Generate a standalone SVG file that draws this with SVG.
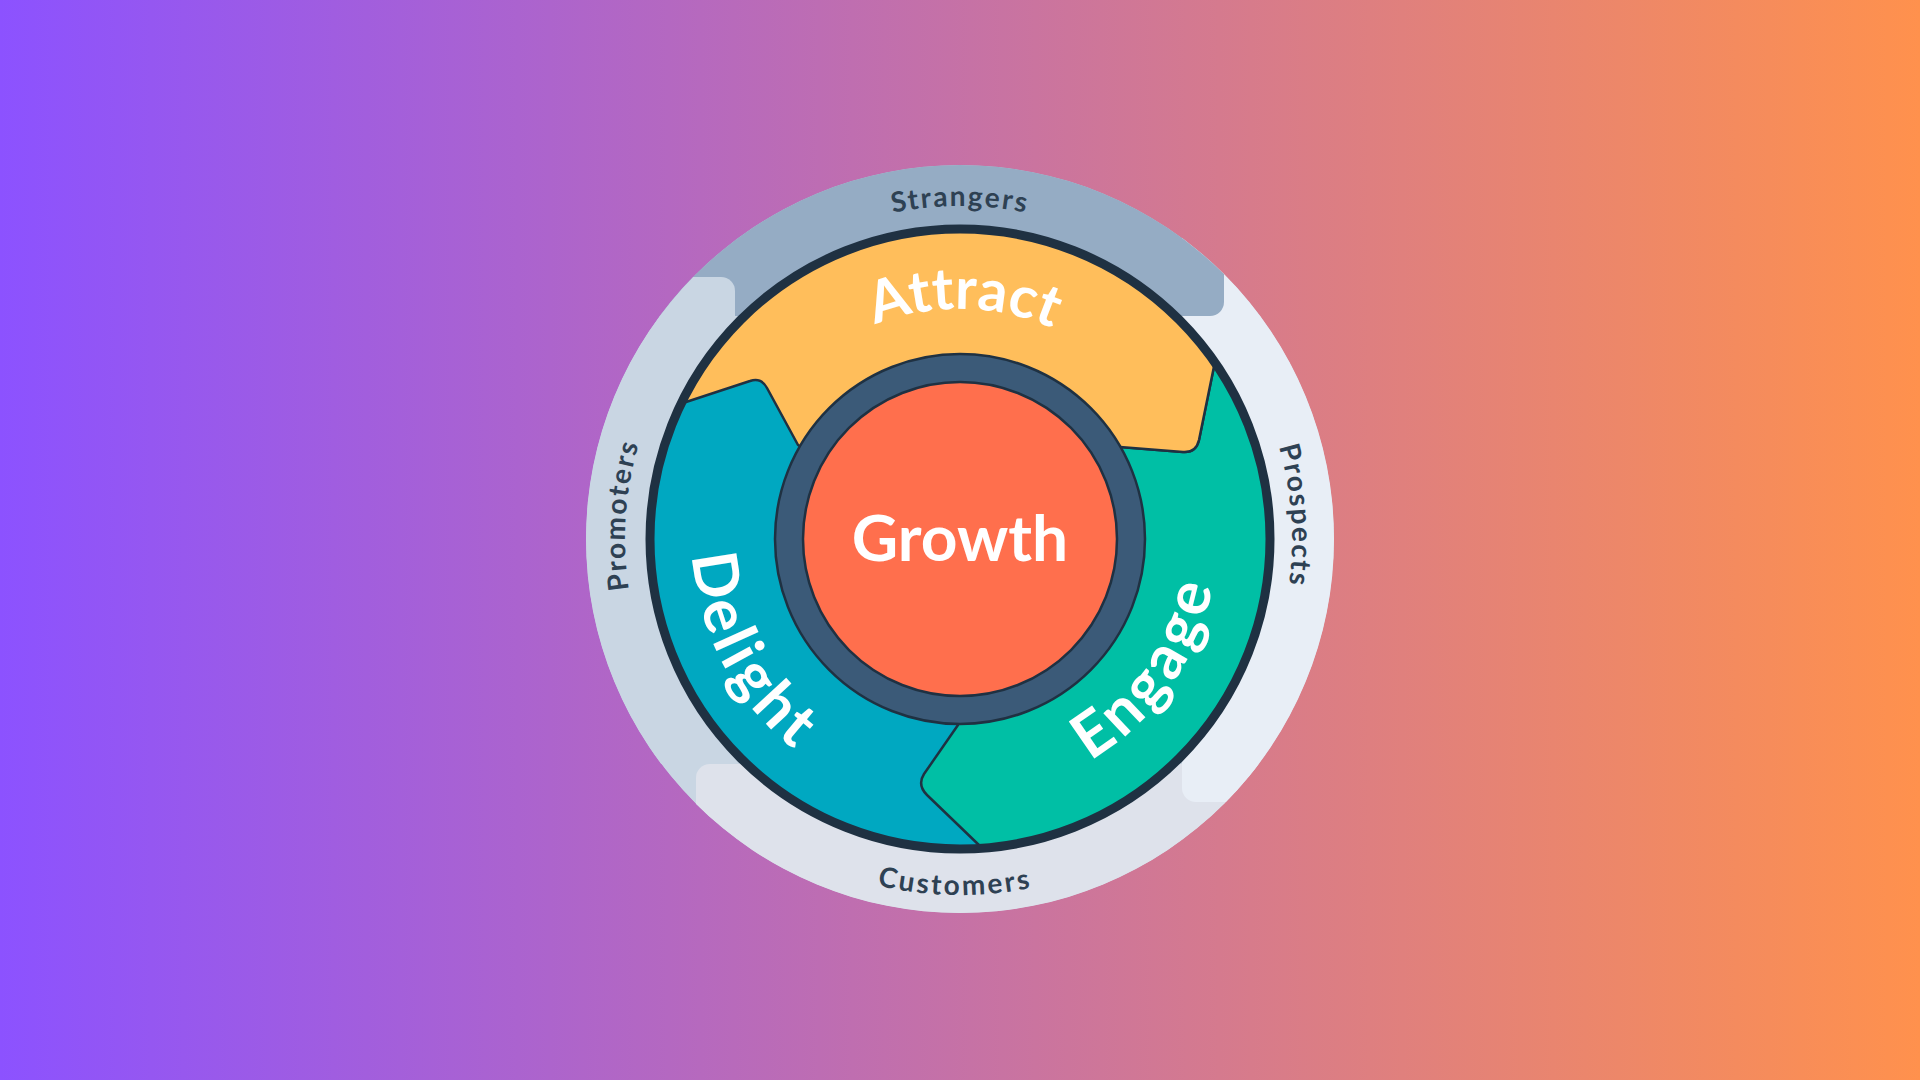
<svg xmlns="http://www.w3.org/2000/svg" xmlns:xlink="http://www.w3.org/1999/xlink" width="1920" height="1080" viewBox="0 0 1920 1080">
  <style>
    text { font-variant-ligatures: none; font-feature-settings: "liga" 0, "dlig" 0, "clig" 0; }
    .seg { stroke: #1F3142; stroke-width: 2.5; stroke-linejoin: round; }
    .big { font-family: Lato, "Open Sans", "Liberation Sans", sans-serif; font-weight: 700; fill: #FFFFFF; font-size: 58px; }
    .big2 { font-family: Lato, "Open Sans", "Liberation Sans", sans-serif; font-weight: 700; fill: #FFFFFF; font-size: 62px; letter-spacing: 4px; }
    .lbl { font-family: Lato, "Open Sans", "Liberation Sans", sans-serif; font-weight: 700; fill: #2E4153; font-size: 28px; letter-spacing: 2px; }
  </style>
  <defs>
    <linearGradient id="bg" x1="0" y1="0" x2="1920" y2="0" gradientUnits="userSpaceOnUse">
      <stop offset="0" stop-color="#8C52FF"/>
      <stop offset="1" stop-color="#FF914D"/>
    </linearGradient>
    <clipPath id="outerClip">
      <circle cx="960" cy="539" r="374"/>
    </clipPath>
    <path id="pStrangers" d="M 647.1 425.1 A 333 333 0 0 1 1272.9 425.1"/>
    <path id="pProspects" d="M 1105.5 240.6 A 332 332 0 0 1 1145.7 814.2"/>
    <path id="pPromoters" d="M 772.7 816.7 A 335 335 0 0 1 813.1 237.9"/>
    <path id="pCustomers" d="M 649.2 712.7 A 356 356 0 0 0 1265.8 721.3"/>
    <path id="pAttract" d="M 762.8 420.5 A 230 230 0 0 1 1161.2 427.5"/>
    <path id="pDelight" d="M 711.5 438.6 A 268 268 0 0 0 904.3 801.1"/>
    <path id="pEngage" d="M 983.7 794.9 A 257 257 0 0 0 1207.9 471.2"/>
  </defs>

  <rect x="0" y="0" width="1920" height="1080" fill="url(#bg)"/>

  <g id="outer-ring" clip-path="url(#outerClip)">
    <circle cx="960" cy="539" r="374" fill="#C9D6E3"/>
    <path id="q-customers" d="M 696 1000 V 778 A 14 14 0 0 1 710 764 H 1400 V 1000 Z" fill="#DEE2EB"/>
    <path id="q-prospects" d="M 1400 100 V 802 H 1196 A 14 14 0 0 1 1182 788 V 100 Z" fill="#E8EEF6"/>
    <path id="q-strangers" d="M 500 100 H 1224 V 302 A 14 14 0 0 1 1210 316 H 500 Z" fill="#95ACC4"/>
    <path id="q-promoters" d="M 500 277 H 721 A 14 14 0 0 1 735 291 V 764 H 500 Z" fill="#C9D6E3"/>
  </g>

  <g id="labels-outer">
    <text class="lbl" id="lbl-strangers"><textPath xlink:href="#pStrangers" href="#pStrangers" startOffset="50%" text-anchor="middle">Strangers</textPath></text>
    <text class="lbl" id="lbl-prospects"><textPath xlink:href="#pProspects" href="#pProspects" startOffset="50%" text-anchor="middle">Prospects</textPath></text>
    <text class="lbl" id="lbl-promoters"><textPath xlink:href="#pPromoters" href="#pPromoters" startOffset="50%" text-anchor="middle">Promoters</textPath></text>
    <text class="lbl" id="lbl-customers" style="letter-spacing:2.6px"><textPath xlink:href="#pCustomers" href="#pCustomers" startOffset="50%" text-anchor="middle">Customers</textPath></text>
  </g>

  <g id="node-delight">
    <circle cx="960" cy="539" r="309" fill="#00A8C1"/>
  </g>
  <g id="node-engage">
    <path class="seg" fill="#00BFA5" d="M 960 539 L 1120 447 L 1183 452 Q 1196 453 1199 440 L 1214.5 364 A 309 309 0 0 1 981 847 L 927 795 Q 917 785 924 774 L 958 725 Z"/>
  </g>
  <g id="node-attract">
    <path class="seg" fill="#FFBE5B" d="M 683 403 A 309 309 0 0 1 1214.5 364 L 1199 440 Q 1196 453 1183 452 L 1120 447 L 960 539 L 798 445 L 767 388 Q 761 377 750 381 Z"/>
  </g>

  <g id="ring">
    <circle cx="960" cy="539" r="310" fill="none" stroke="#1F3142" stroke-width="9"/>
  </g>

  <g id="node-growth">
    <circle cx="960" cy="539" r="185" fill="#3B5A78" stroke="#1F3142" stroke-width="2.5"/>
    <circle cx="960" cy="539" r="157" fill="#FF6F4D" stroke="#1F3142" stroke-width="2.5"/>
    <text x="960" y="561" text-anchor="middle" font-family="Lato, 'Open Sans', 'Liberation Sans', sans-serif" font-weight="700" font-size="64" fill="#FFFFFF">Growth</text>
  </g>

  <g id="labels-segments">
    <text class="big" id="lbl-attract"><textPath xlink:href="#pAttract" href="#pAttract" startOffset="50%" text-anchor="middle">Attract</textPath></text>
    <text class="big2" id="lbl-delight"><textPath xlink:href="#pDelight" href="#pDelight" startOffset="50%" text-anchor="middle">Delight</textPath></text>
    <text class="big2" id="lbl-engage"><textPath xlink:href="#pEngage" href="#pEngage" startOffset="50%" text-anchor="middle">Engage</textPath></text>
  </g>
</svg>
